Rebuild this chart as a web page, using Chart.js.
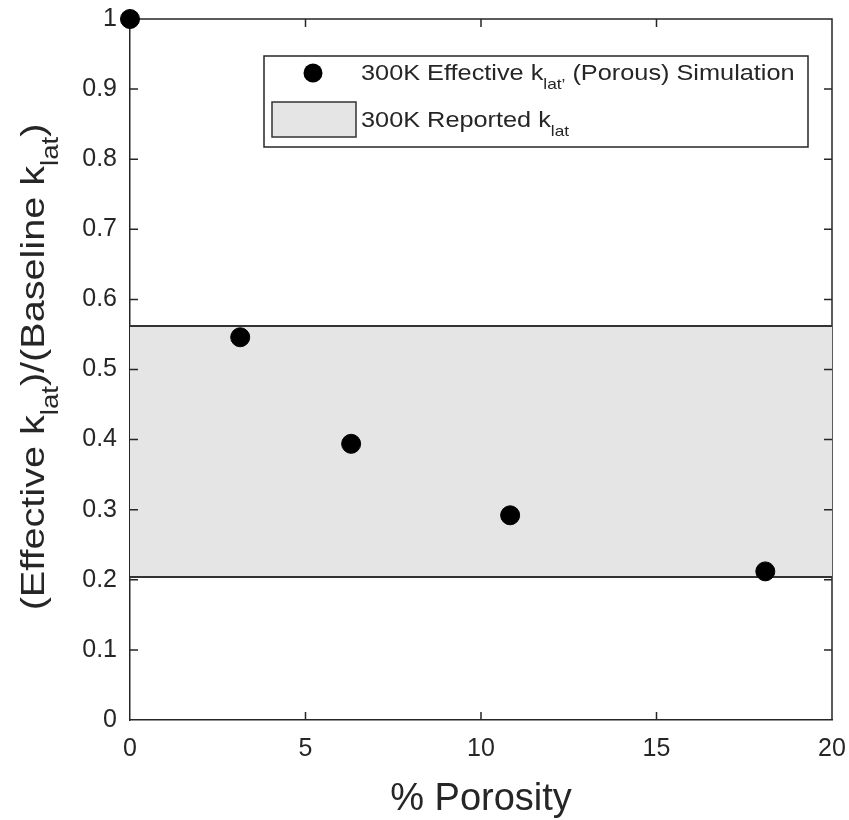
<!DOCTYPE html>
<html>
<head>
<meta charset="utf-8">
<script src="https://cdn.jsdelivr.net/npm/chart.js@4.4.1/dist/chart.umd.min.js"></script>
<style>
  body { margin:0; background:#fff; }
  #wrap { width:849px; height:820px; }
</style>
</head>
<body>
<div id="wrap"><canvas id="porosityChart" width="849" height="820"></canvas></div>
<script>
// simulation points
const porosity = [0, 3.14, 6.3, 10.83, 18.1];
const klatRatio = [1, 0.546, 0.394, 0.292, 0.212];

// reported k_lat band (300K)
const bandX = [0, 20];
const bandTop = [0.562, 0.562];
const bandBottom = [0.204, 0.204];

// axis ticks
const xTicks = [0, 5, 10, 15, 20];
const yTicks = [0, 0.1, 0.2, 0.3, 0.4, 0.5, 0.6, 0.7, 0.8, 0.9, 1];

const AXIS_COL = '#262626';
const FONT = '"Liberation Sans", Arial, Helvetica, sans-serif';

// draws text pieces, some of them as subscripts, starting at x (baseline y)
function richWidth(ctx, parts, size, sx) {
  let w = 0;
  parts.forEach(p => {
    ctx.font = (p.sub ? Math.round(size * 0.7) : size) + 'px ' + FONT;
    w += ctx.measureText(p.t).width * sx;
  });
  return w;
}
function drawRich(ctx, parts, x, y, size, sx) {
  let cx = x;
  parts.forEach(p => {
    const fs = p.sub ? Math.round(size * 0.7) : size;
    ctx.font = fs + 'px ' + FONT;
    const dy = p.sub ? size * 0.42 : 0;
    ctx.save();
    ctx.translate(cx, y + dy);
    ctx.scale(sx, 1);
    ctx.fillText(p.t, 0, 0);
    ctx.restore();
    cx += ctx.measureText(p.t).width * sx;
  });
}

const yTitleParts = [
  {t: '(Effective k'}, {t: 'lat', sub: true}, {t: ')/(Baseline k'}, {t: 'lat', sub: true}, {t: ')'}
];
const legendRow1 = [
  {t: '300K Effective k'}, {t: 'lat\u2019', sub: true}, {t: ' (Porous) Simulation'}
];
const legendRow2 = [
  {t: '300K Reported k'}, {t: 'lat', sub: true}
];

const boxPlugin = {
  id: 'boxPlugin',
  beforeDatasetsDraw(chart) {
    const ctx = chart.ctx, a = chart.chartArea;
    ctx.save();
    ctx.strokeStyle = AXIS_COL;
    ctx.lineWidth = 1.5;
    ctx.beginPath();
    ctx.moveTo(a.left, a.top); ctx.lineTo(a.right, a.top); ctx.lineTo(a.right, a.bottom);
    ctx.stroke();
    ctx.restore();
  },
  afterDatasetsDraw(chart) {
    // matlab style inward ticks on all four sides
    const ctx = chart.ctx, a = chart.chartArea;
    const xs = chart.scales.x, ys = chart.scales.y;
    const len = 8;
    ctx.save();
    ctx.strokeStyle = AXIS_COL;
    ctx.lineWidth = 1.5;
    ctx.beginPath();
    xTicks.slice(1, -1).forEach(v => {
      const px = xs.getPixelForValue(v);
      ctx.moveTo(px, a.bottom); ctx.lineTo(px, a.bottom - len);
      ctx.moveTo(px, a.top); ctx.lineTo(px, a.top + len);
    });
    yTicks.slice(1, -1).forEach(v => {
      const py = ys.getPixelForValue(v);
      ctx.moveTo(a.left, py); ctx.lineTo(a.left + len, py);
      ctx.moveTo(a.right, py); ctx.lineTo(a.right - len, py);
    });
    ctx.stroke();
    ctx.restore();
  },
  afterDraw(chart) {
    const ctx = chart.ctx, a = chart.chartArea;
    ctx.save();
    ctx.fillStyle = AXIS_COL;
    ctx.textBaseline = 'alphabetic';

    // x title
    ctx.font = '38px ' + FONT;
    ctx.textAlign = 'center';
    ctx.fillText('% Porosity', (a.left + a.right) / 2, 810);

    // y title (rotated, with subscripts)
    ctx.textAlign = 'left';
    const ySize = 33, ySx = 1.2;
    const w = richWidth(ctx, yTitleParts, ySize, ySx);
    ctx.save();
    ctx.translate(44, 367);
    ctx.rotate(-Math.PI / 2);
    drawRich(ctx, yTitleParts, -w / 2, 0, ySize, ySx);
    ctx.restore();

    // legend
    const lx = 264, ly = 56, lw = 544, lh = 91;
    ctx.fillStyle = '#ffffff';
    ctx.fillRect(lx, ly, lw, lh);
    ctx.strokeStyle = AXIS_COL;
    ctx.lineWidth = 1.5;
    ctx.strokeRect(lx, ly, lw, lh);

    ctx.fillStyle = '#000000';
    ctx.beginPath();
    ctx.arc(313, 73, 9.5, 0, Math.PI * 2);
    ctx.fill();

    ctx.fillStyle = '#e5e5e5';
    ctx.fillRect(272, 102, 84, 35);
    ctx.strokeStyle = '#333333';
    ctx.lineWidth = 1.5;
    ctx.strokeRect(272, 102, 84, 35);

    ctx.fillStyle = AXIS_COL;
    drawRich(ctx, legendRow1, 361, 80, 22, 1.15);
    drawRich(ctx, legendRow2, 361, 127, 22, 1.15);
    ctx.restore();
  }
};

const ctx = document.getElementById('porosityChart').getContext('2d');
const chart = new Chart(ctx, {
  type: 'scatter',
  data: {
    datasets: [
      {
        label: '300K Effective k_lat, (Porous) Simulation',
        data: porosity.map((x, i) => ({x: x, y: klatRatio[i]})),
        backgroundColor: '#000000',
        borderColor: '#000000',
        pointRadius: 9.5,
        pointHoverRadius: 9.5,
        clip: false,
        order: 0
      },
      {
        label: 'band bottom',
        data: bandX.map((x, i) => ({x: x, y: bandBottom[i]})),
        showLine: true,
        borderColor: '#333333',
        borderWidth: 2,
        pointRadius: 0,
        fill: false,
        order: 1
      },
      {
        label: '300K Reported k_lat',
        data: bandX.map((x, i) => ({x: x, y: bandTop[i]})),
        showLine: true,
        borderColor: '#333333',
        borderWidth: 2,
        backgroundColor: '#e5e5e5',
        pointRadius: 0,
        fill: '-1',
        order: 2
      }
    ]
  },
  options: {
    responsive: false,
    animation: false,
    events: [],
    layout: { autoPadding: false, padding: { left: 0, right: 17, top: 19, bottom: 0 } },
    plugins: {
      legend: { display: false },
      tooltip: { enabled: false }
    },
    scales: {
      x: {
        type: 'linear',
        min: 0, max: 20,
        afterFit: s => { s.height = 100; s.paddingLeft = 0; s.paddingRight = 0; },
        afterBuildTicks: s => { s.ticks = xTicks.map(v => ({value: v})); },
        border: { display: true, color: AXIS_COL, width: 1.5 },
        grid: { drawOnChartArea: false, drawTicks: false },
        ticks: {
          padding: 14,
          color: AXIS_COL,
          font: { family: FONT, size: 25 },
          maxRotation: 0,
          callback: v => String(v)
        }
      },
      y: {
        type: 'linear',
        min: 0, max: 1,
        afterFit: s => { s.width = 130; s.paddingTop = 0; s.paddingBottom = 0; },
        afterBuildTicks: s => { s.ticks = yTicks.map(v => ({value: v})); },
        border: { display: true, color: AXIS_COL, width: 1.5 },
        grid: { drawOnChartArea: false, drawTicks: false },
        ticks: {
          padding: 13,
          color: AXIS_COL,
          font: { family: FONT, size: 25 },
          callback: v => String(Math.round(v * 10) / 10)
        }
      }
    }
  },
  plugins: [boxPlugin]
});
</script>
</body>
</html>
